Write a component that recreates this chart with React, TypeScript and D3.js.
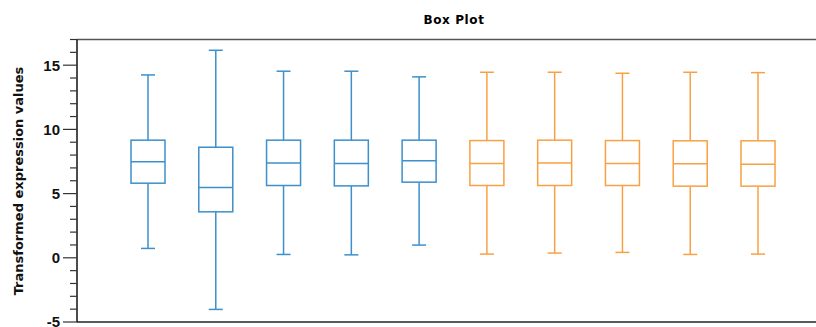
import React, { useEffect, useRef } from 'react';
import * as d3 from 'd3';

const samples = ['S1', 'S2', 'S3', 'S4', 'S5', 'S6', 'S7', 'S8', 'S9', 'S10'];
const groups = ['A', 'A', 'A', 'A', 'A', 'B', 'B', 'B', 'B', 'B'];
const lowWhisker = [0.73, -4.02, 0.26, 0.23, 0.99, 0.29, 0.37, 0.42, 0.26, 0.29];
const q1 = [5.81, 3.58, 5.63, 5.6, 5.89, 5.63, 5.63, 5.63, 5.58, 5.58];
const median = [7.47, 5.48, 7.39, 7.34, 7.55, 7.34, 7.39, 7.34, 7.32, 7.29];
const q3 = [9.16, 8.61, 9.16, 9.16, 9.16, 9.13, 9.16, 9.13, 9.11, 9.11];
const highWhisker = [14.24, 16.16, 14.53, 14.53, 14.09, 14.45, 14.45, 14.37, 14.45, 14.42];
const yTicks = [-5, 0, 5, 10, 15];

const groupColors: Record<string, string> = { A: '#3d90cb', B: '#f8a144' };

const App = () => {
  const ref = useRef<SVGSVGElement>(null);

  useEffect(() => {
    const svg = d3.select(ref.current);
    svg.selectAll('*').remove();

    const W = 816;
    const left = 77;
    const top = 39.5;
    const bottom = 322;

    const y = d3.scaleLinear().domain([-5, 17]).range([bottom, top]);
    const x = d3.scalePoint<string>().domain(samples).range([148, 758]);

    const font = '"DejaVu Sans", Verdana, sans-serif';
    const numFont = '"Liberation Sans", Arial, sans-serif';

    // titulo
    svg.append('text')
      .attr('x', 454)
      .attr('y', 24)
      .attr('text-anchor', 'middle')
      .attr('font-family', font)
      .attr('font-weight', 'bold')
      .attr('font-size', 12)
      .attr('letter-spacing', 0.6)
      .text('Box Plot');

    // moldura
    svg.append('line')
      .attr('x1', left).attr('x2', W)
      .attr('y1', top).attr('y2', top)
      .attr('stroke', '#555').attr('stroke-width', 1.3);
    svg.append('line')
      .attr('x1', left).attr('x2', W)
      .attr('y1', bottom).attr('y2', bottom)
      .attr('stroke', '#222').attr('stroke-width', 1.5);

    // eixo y
    const yAxis = svg.append('g');
    yAxis.append('line')
      .attr('x1', left).attr('x2', left)
      .attr('y1', top).attr('y2', bottom)
      .attr('stroke', '#111').attr('stroke-width', 1.5);

    d3.range(-5, 18).forEach(v => {
      const major = v % 5 === 0;
      yAxis.append('line')
        .attr('x1', major ? 63 : 70).attr('x2', left)
        .attr('y1', y(v)).attr('y2', y(v))
        .attr('stroke', '#333').attr('stroke-width', 1.2);
    });

    yAxis.selectAll('.lbl')
      .data(yTicks)
      .enter().append('text')
      .attr('x', 60)
      .attr('y', d => y(d))
      .attr('dy', '0.36em')
      .attr('text-anchor', 'end')
      .attr('font-family', numFont)
      .attr('font-weight', 'bold')
      .attr('font-size', 15)
      .attr('fill', '#111')
      .text(d => d);

    svg.append('text')
      .attr('transform', `translate(23,${(57 + 305) / 2}) rotate(-90)`)
      .attr('text-anchor', 'middle')
      .attr('font-family', font)
      .attr('font-weight', 'bold')
      .attr('font-size', 13)
      .attr('fill', '#111')
      .text('Transformed expression values');

    // caixas
    const boxW = 34;
    const capW = 14;
    samples.forEach((s, i) => {
      const cx = x(s) as number;
      const color = groupColors[groups[i]];
      const g = svg.append('g')
        .attr('stroke', color)
        .attr('stroke-width', 1.5)
        .attr('fill', 'none');

      g.append('line')
        .attr('x1', cx).attr('x2', cx)
        .attr('y1', y(highWhisker[i])).attr('y2', y(q3[i]));
      g.append('line')
        .attr('x1', cx).attr('x2', cx)
        .attr('y1', y(q1[i])).attr('y2', y(lowWhisker[i]));
      g.append('line')
        .attr('x1', cx - capW / 2).attr('x2', cx + capW / 2)
        .attr('y1', y(highWhisker[i])).attr('y2', y(highWhisker[i]));
      g.append('line')
        .attr('x1', cx - capW / 2).attr('x2', cx + capW / 2)
        .attr('y1', y(lowWhisker[i])).attr('y2', y(lowWhisker[i]));
      g.append('rect')
        .attr('x', cx - boxW / 2)
        .attr('y', y(q3[i]))
        .attr('width', boxW)
        .attr('height', y(q1[i]) - y(q3[i]));
      g.append('line')
        .attr('x1', cx - boxW / 2).attr('x2', cx + boxW / 2)
        .attr('y1', y(median[i])).attr('y2', y(median[i]));
    });
  }, []);

  return (
    <svg
      ref={ref}
      width={816}
      height={327}
      style={{ position: 'absolute', left: 0, top: 0, background: '#fff' }}
    />
  );
};

export default App;
